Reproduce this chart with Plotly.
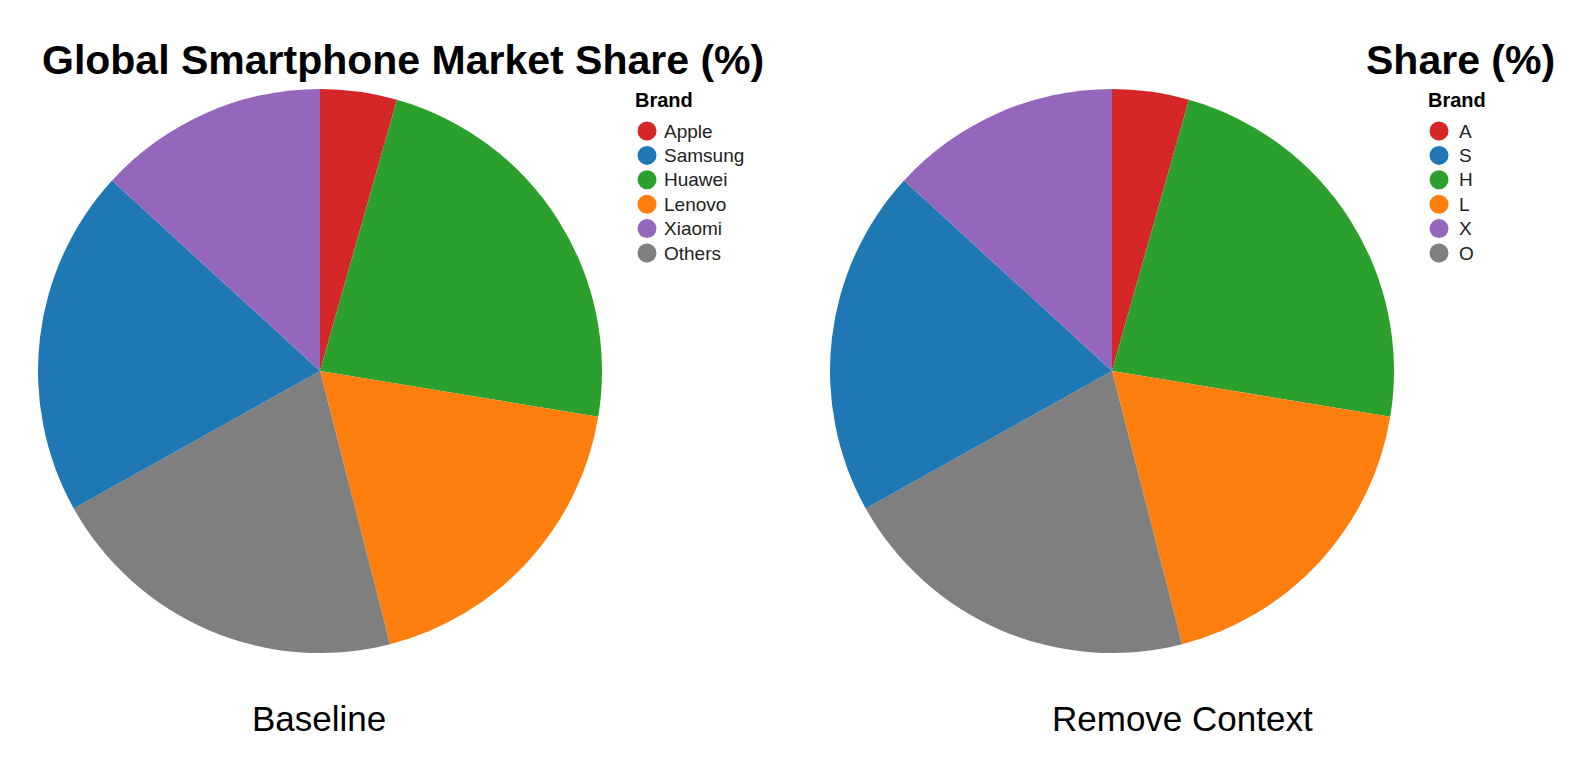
import plotly.graph_objects as go

# Data
brands = ["Apple", "Samsung", "Huawei", "Lenovo", "Xiaomi", "Others"]
short_labels = ["A", "S", "H", "L", "X", "O"]
shares = [4.4, 19.9, 23.2, 18.4, 13.2, 20.9]
colors = ["#d62728", "#1f77b4", "#2ca02c", "#ff7f0e", "#9467bd", "#7f7f7f"]

titles = ["Global Smartphone Market Share (%)", "Share (%)"]
captions = ["Baseline", "Remove Context"]
legend_title = "Brand"

PAGE_W, PAGE_H = 1578, 773
OFF = 8  # default page body margin
W, H = PAGE_W - 2 * OFF, PAGE_H - 2 * OFF
FONT = "Liberation Sans, Arial, Helvetica, sans-serif"

# pie slices are drawn in alphabetical order (as in the reference)
order = sorted(range(len(brands)), key=lambda i: brands[i])
pie_labels = [brands[i] for i in order]
pie_vals = [shares[i] for i in order]
pie_cols = [colors[i] for i in order]

fig = go.Figure()

pie_centers = [320, 1112]
pie_cy, pie_r = 371, 282
for k, cx in enumerate(pie_centers):
    fig.add_trace(go.Pie(
        labels=pie_labels, values=pie_vals,
        marker=dict(colors=pie_cols, line=dict(width=0)),
        sort=False, direction="clockwise", rotation=0,
        textinfo="none", showlegend=False, hoverinfo="label+value",
        domain=dict(x=[(cx - pie_r - OFF) / W, (cx + pie_r - OFF) / W],
                    y=[1 - (pie_cy + pie_r - OFF) / H, 1 - (pie_cy - pie_r - OFF) / H]),
    ))

# custom legends (symbol markers)
legend_cfg = [
    dict(title_x=633, sym_x=647, text_x=662, labels=brands),
    dict(title_x=1426, sym_x=1439, text_x=1457, labels=short_labels),
]
row0, row_step = 131, 24.4
for cfg in legend_cfg:
    ys = [row0 + row_step * i for i in range(len(brands))]
    fig.add_trace(go.Scatter(
        x=[cfg["sym_x"]] * len(brands), y=ys, mode="markers",
        marker=dict(size=19, color=colors, line=dict(width=0)),
        showlegend=False, hoverinfo="skip", xaxis="x", yaxis="y",
    ))
    fig.add_annotation(x=cfg["title_x"], y=100, text="<b>%s</b>" % legend_title,
                       xref="x", yref="y", xanchor="left", yanchor="middle",
                       showarrow=False, font=dict(family=FONT, size=20, color="#000"))
    for lab, yy in zip(cfg["labels"], ys):
        fig.add_annotation(x=cfg["text_x"], y=yy, text=lab, xref="x", yref="y",
                           xanchor="left", yanchor="middle", showarrow=False,
                           font=dict(family=FONT, size=19, color="#222"))

# titles
fig.add_annotation(x=403, y=60, text="<b>%s</b>" % titles[0], xref="x", yref="y",
                   xanchor="center", yanchor="middle", showarrow=False,
                   font=dict(family=FONT, size=41, color="#000"))
fig.add_annotation(x=1557, y=60, text="<b>%s</b>" % titles[1], xref="x", yref="y",
                   xanchor="right", yanchor="middle", showarrow=False,
                   font=dict(family=FONT, size=41, color="#000"))

# captions
for cx, cap in zip([319, 1182], captions):
    fig.add_annotation(x=cx, y=718, text=cap, xref="x", yref="y",
                       xanchor="center", yanchor="middle", showarrow=False,
                       font=dict(family=FONT, size=35, color="#000"))

fig.update_layout(
    width=W, height=H,
    margin=dict(l=0, r=0, t=0, b=0),
    paper_bgcolor="white", plot_bgcolor="rgba(0,0,0,0)",
    xaxis=dict(range=[OFF, OFF + W], visible=False, domain=[0, 1], fixedrange=True),
    yaxis=dict(range=[OFF + H, OFF], visible=False, domain=[0, 1], fixedrange=True),
    showlegend=False,
)

fig.write_html("out.html")
